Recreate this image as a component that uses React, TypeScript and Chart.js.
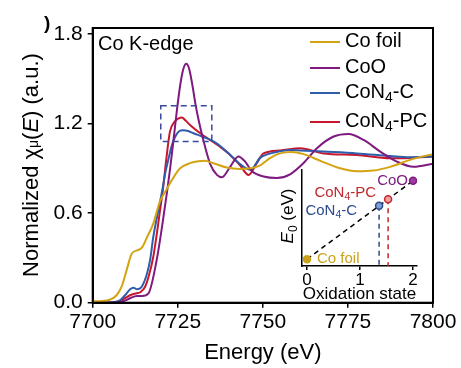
import React, { useEffect, useRef } from "react";
import { Chart, registerables } from "chart.js";
Chart.register(...registerables);

const FONT = '"Liberation Sans", Arial, sans-serif';

// ---------- main XANES data ----------
const seriesNames = ["Co foil", "CoO", "CoN_4-C", "CoN_4-PC"];
const seriesColors = ["#d3a412", "#7e1a80", "#2f5cab", "#c8162c"];

const coFoilE = [7700, 7703, 7705, 7707, 7708.5, 7710, 7711.5, 7713.4, 7714.5, 7716, 7717.8, 7719.8, 7721.5, 7723.5, 7725.7, 7728.6, 7731, 7733, 7735.5, 7739.4, 7743.3, 7746.3, 7749.2, 7752.1, 7755, 7758.5, 7762, 7766.9, 7772.7, 7777.6, 7782.5, 7787.4, 7792.4, 7796, 7800];
const coFoilMu = [0.01, 0.012, 0.02, 0.05, 0.107, 0.22, 0.33, 0.353, 0.37, 0.44, 0.53, 0.68, 0.75, 0.83, 0.9, 0.935, 0.948, 0.95, 0.934, 0.905, 0.896, 0.9, 0.92, 0.968, 1.0, 1.01, 0.995, 0.95, 0.9, 0.88, 0.885, 0.91, 0.95, 0.975, 0.995];

const coOE = [7700, 7706, 7709, 7711, 7713, 7714.5, 7716.4, 7718.8, 7720.8, 7722.7, 7723.8, 7724.8, 7725.8, 7726.7, 7727.5, 7728.3, 7729.2, 7730.2, 7731.1, 7732.5, 7734.5, 7736.5, 7738, 7740.4, 7742.8, 7744.8, 7746.8, 7750.2, 7754.1, 7758, 7761.9, 7765.9, 7770.8, 7775.2, 7779.6, 7784.5, 7789.4, 7794.3, 7800];
const coOMu = [0.0, 0.002, 0.01, 0.03, 0.045, 0.045, 0.063, 0.286, 0.576, 0.89, 1.1, 1.3, 1.47, 1.57, 1.6, 1.57, 1.47, 1.33, 1.225, 1.09, 0.93, 0.856, 0.84, 0.91, 0.98, 0.945, 0.88, 0.845, 0.835, 0.86, 0.934, 1.035, 1.113, 1.13, 1.09, 1.012, 0.945, 0.91, 0.93];

const coN4CE = [7700, 7706, 7708, 7709.5, 7711, 7712, 7713, 7714.4, 7715.9, 7716.9, 7717.8, 7719.3, 7720.5, 7721.3, 7722.2, 7723.2, 7724.2, 7725.5, 7726.6, 7728, 7729.6, 7732.5, 7735.5, 7738, 7740.4, 7743.8, 7746.3, 7749.2, 7751.5, 7754.1, 7758, 7761, 7767.8, 7777.6, 7787.4, 7793, 7800];
const coN4CMu = [0.0, 0.003, 0.015, 0.05, 0.09, 0.1, 0.09, 0.107, 0.19, 0.29, 0.44, 0.62, 0.76, 0.867, 0.956, 1.05, 1.11, 1.15, 1.155, 1.15, 1.135, 1.11, 1.08, 1.04, 0.99, 0.92, 0.89, 0.97, 0.995, 1.01, 1.023, 1.02, 1.012, 1.0, 0.983, 0.975, 0.98];

const coN4PCE = [7700, 7706, 7708, 7709.5, 7711, 7712.9, 7714, 7715.4, 7716.5, 7717.8, 7719.8, 7720.8, 7721.6, 7722.7, 7724, 7725.3, 7726.2, 7727.3, 7728.6, 7731.6, 7734.5, 7737.4, 7740.4, 7743.3, 7745.8, 7748.2, 7750.2, 7755.1, 7761, 7767.8, 7777.6, 7787.4, 7793, 7800];
const coN4PCMu = [0.0, 0.002, 0.01, 0.03, 0.05, 0.063, 0.07, 0.107, 0.18, 0.308, 0.62, 0.79, 0.956, 1.146, 1.21, 1.235, 1.24, 1.22, 1.19, 1.135, 1.09, 1.045, 0.99, 0.92, 0.856, 0.934, 1.0, 1.02, 1.035, 1.0, 0.99, 0.968, 0.97, 0.98];

const xTicks = [7700, 7725, 7750, 7775, 7800];
const yTicks = [0.0, 0.6, 1.2, 1.8];
const zoomBoxE = [7720, 7735];
const zoomBoxMu = [1.08, 1.32];

// ---------- inset data ----------
const insetNames = ["Co foil", "CoN_4-C", "CoN_4-PC", "CoO"];
const insetColors = ["#c9a21b", "#2b4a8f", "#c0282d", "#7e1a80"];
const insetFill = ["#c9a21b", "#7e9ed6", "#f3a0a0", "#a03aa0"];
const oxState = [0, 1.36, 1.53, 2];
const e0 = [7709.0, 7714.44, 7715.12, 7717.0];
const oxTicks = [0, 1, 2];
const insetYMin = 7708.3;
const insetYMax = 7718.1;

type Seg = { t: string; size: number; italic?: boolean; dy?: number; bold?: boolean };

function parseLabel(s: string, size: number): Seg[] {
  const out: Seg[] = [];
  s.split(/_(\w)/).forEach((p, i) => {
    if (!p) return;
    if (i % 2 === 1) out.push({ t: p, size: size * 0.7, dy: size * 0.22 });
    else out.push({ t: p, size });
  });
  return out;
}

function fontOf(s: Seg) {
  return `${s.italic ? "italic " : ""}${s.bold ? "bold " : ""}${s.size}px ${FONT}`;
}

function drawSegs(ctx: CanvasRenderingContext2D, segs: Seg[], x: number, y: number, align: "left" | "right" | "center", color: string) {
  ctx.save();
  ctx.fillStyle = color;
  ctx.textBaseline = "alphabetic";
  ctx.textAlign = "left";
  let w = 0;
  const ws: number[] = [];
  for (const s of segs) {
    ctx.font = fontOf(s);
    const m = ctx.measureText(s.t).width;
    ws.push(m);
    w += m;
  }
  let cx = align === "left" ? x : align === "right" ? x - w : x - w / 2;
  segs.forEach((s, i) => {
    ctx.font = fontOf(s);
    ctx.fillText(s.t, cx, y + (s.dy || 0));
    cx += ws[i];
  });
  ctx.restore();
}

function drawRotated(ctx: CanvasRenderingContext2D, segs: Seg[], bx: number, cy: number, color: string) {
  ctx.save();
  ctx.translate(bx, cy);
  ctx.rotate(-Math.PI / 2);
  drawSegs(ctx, segs, 0, 0, "center", color);
  ctx.restore();
}

const mainDecor = {
  id: "mainDecor",
  afterDatasetsDraw(chart: any) {
    const ctx: CanvasRenderingContext2D = chart.ctx;
    const { left, right, top, bottom } = chart.chartArea;
    const xs = chart.scales.x;
    const ys = chart.scales.y;
    ctx.save();
    // frame
    ctx.strokeStyle = "#000";
    ctx.lineWidth = 2;
    ctx.strokeRect(left, top, right - left, bottom - top);
    // dashed zoom box
    ctx.strokeStyle = "#3b4a9c";
    ctx.lineWidth = 1.5;
    ctx.setLineDash([6, 4]);
    const bx0 = xs.getPixelForValue(zoomBoxE[0]);
    const bx1 = xs.getPixelForValue(zoomBoxE[1]);
    const by0 = ys.getPixelForValue(zoomBoxMu[1]);
    const by1 = ys.getPixelForValue(zoomBoxMu[0]);
    ctx.strokeRect(bx0, by0, bx1 - bx0, by1 - by0);
    ctx.setLineDash([]);
    // legend
    const rows = [42, 68, 93, 122];
    seriesNames.forEach((n, i) => {
      ctx.strokeStyle = seriesColors[i];
      ctx.lineWidth = 2;
      ctx.beginPath();
      ctx.moveTo(310, rows[i]);
      ctx.lineTo(340, rows[i]);
      ctx.stroke();
      drawSegs(ctx, parseLabel(n, 20), 345, rows[i] + 5, "left", "#000");
    });
    // panel label
    drawSegs(ctx, [{ t: "Co K-edge", size: 20 }], 98, 50, "left", "#000");
    // axis titles
    drawSegs(ctx, [{ t: "Energy (eV)", size: 22 }], (left + right) / 2, 359, "center", "#000");
    drawRotated(ctx, [
      { t: "Normalized ", size: 22 },
      { t: "χ", size: 22 },
      { t: "μ", size: 14 },
      { t: "(", size: 22 },
      { t: "E", size: 22, italic: true },
      { t: ") (a.u.)", size: 22 },
    ], 38, 165, "#000");
    drawSegs(ctx, [{ t: ")", size: 19, bold: true }], 44, 29, "left", "#000");
    ctx.restore();
  },
};

const insetDecor = {
  id: "insetDecor",
  afterDatasetsDraw(chart: any) {
    const ctx: CanvasRenderingContext2D = chart.ctx;
    const xs = chart.scales.x;
    const ys = chart.scales.y;
    const { left, right } = chart.chartArea;
    const offs = [
      { dx: 10, dy: 4, a: "left" },
      { dx: -22, dy: 9, a: "right" },
      { dx: -12, dy: -2, a: "right" },
      { dx: -5, dy: 4, a: "right" },
    ];
    insetNames.forEach((n, i) => {
      const px = xs.getPixelForValue(oxState[i]);
      const py = ys.getPixelForValue(e0[i]);
      drawSegs(ctx, parseLabel(n, 15), px + offs[i].dx, py + offs[i].dy, offs[i].a as any, insetColors[i]);
    });
    drawSegs(ctx, [{ t: "Oxidation state", size: 17 }], (left + right) / 2, 299, "center", "#000");
    drawRotated(ctx, [
      { t: "E", size: 17, italic: true },
      { t: "0", size: 12, dy: 4 },
      { t: " (eV)", size: 17 },
    ], 293, 216, "#000");
  },
};

export default function App() {
  const mainRef = useRef<HTMLCanvasElement | null>(null);
  const insetRef = useRef<HTMLCanvasElement | null>(null);

  useEffect(() => {
    const series = [
      { E: coFoilE, mu: coFoilMu },
      { E: coOE, mu: coOMu },
      { E: coN4CE, mu: coN4CMu },
      { E: coN4PCE, mu: coN4PCMu },
    ];
    const main = new Chart(mainRef.current!, {
      type: "line",
      data: {
        datasets: series.map((s, i) => ({
          label: seriesNames[i],
          data: s.E.map((x, j) => ({ x, y: s.mu[j] })),
          borderColor: seriesColors[i],
          backgroundColor: seriesColors[i],
          borderWidth: 2,
          pointRadius: 0,
          cubicInterpolationMode: "monotone",
          fill: false,
        })),
      },
      options: {
        animation: false,
        responsive: false,
        devicePixelRatio: 1,
        layout: { padding: { left: 0, right: 28, top: 28, bottom: 0 } },
        scales: {
          x: {
            type: "linear",
            min: 7700,
            max: 7800,
            afterBuildTicks: (s: any) => { s.ticks = xTicks.map((v) => ({ value: v })); },
            afterFit: (s: any) => { s.height = 65.3; },
            grid: { drawOnChartArea: false, drawTicks: true, tickLength: 5, color: "#000", lineWidth: 1.5 },
            border: { display: true, color: "#000", width: 2 },
            ticks: { color: "#000", font: { family: FONT, size: 21 }, padding: 2, maxRotation: 0, autoSkip: false, callback: (v: any) => String(v) },
          },
          y: {
            type: "linear",
            min: 0,
            max: 1.84,
            afterBuildTicks: (s: any) => { s.ticks = yTicks.map((v) => ({ value: v })); },
            afterFit: (s: any) => { s.width = 92.7; },
            grid: { drawOnChartArea: false, drawTicks: true, tickLength: 5, color: "#000", lineWidth: 1.5 },
            border: { display: true, color: "#000", width: 2 },
            ticks: { color: "#000", font: { family: FONT, size: 21 }, padding: 5, autoSkip: false, callback: (v: any) => Number(v).toFixed(1) },
          },
        },
        plugins: { legend: { display: false }, tooltip: { enabled: false } },
      } as any,
      plugins: [mainDecor],
    });

    const inset = new Chart(insetRef.current!, {
      type: "scatter",
      data: {
        datasets: [
          {
            data: oxState.map((x, i) => ({ x, y: e0[i] })),
            pointRadius: 3.5,
            pointBorderWidth: 1.5,
            pointBackgroundColor: insetFill,
            pointBorderColor: insetColors,
            showLine: false,
          },
          {
            data: [{ x: oxState[0], y: e0[0] }, { x: oxState[3], y: e0[3] }],
            showLine: true,
            borderColor: "#000",
            borderWidth: 1.5,
            borderDash: [5, 4],
            pointRadius: 0,
          },
          {
            data: [{ x: oxState[1], y: e0[1] }, { x: oxState[1], y: insetYMin }],
            showLine: true,
            borderColor: insetColors[1],
            borderWidth: 1.5,
            borderDash: [5, 4],
            pointRadius: 0,
          },
          {
            data: [{ x: oxState[2], y: e0[2] }, { x: oxState[2], y: insetYMin }],
            showLine: true,
            borderColor: insetColors[2],
            borderWidth: 1.5,
            borderDash: [5, 4],
            pointRadius: 0,
          },
        ],
      },
      options: {
        animation: false,
        responsive: false,
        devicePixelRatio: 1,
        layout: { padding: { left: 302, right: 44, top: 170, bottom: 0 } },
        scales: {
          x: {
            type: "linear",
            min: -0.094,
            max: 2.075,
            afterBuildTicks: (s: any) => { s.ticks = oxTicks.map((v) => ({ value: v })); },
            afterFit: (s: any) => { s.height = 102; },
            grid: { drawOnChartArea: false, drawTicks: true, tickLength: 4, color: "#000", lineWidth: 1.5 },
            border: { display: true, color: "#000", width: 1.5 },
            ticks: { color: "#000", font: { family: FONT, size: 17 }, padding: 0, maxRotation: 0, autoSkip: false, callback: (v: any) => String(v) },
          },
          y: {
            type: "linear",
            min: insetYMin,
            max: insetYMax,
            afterFit: (s: any) => { s.width = 0; },
            grid: { display: false },
            border: { display: true, color: "#000", width: 1.5 },
            ticks: { display: false },
          },
        },
        plugins: { legend: { display: false }, tooltip: { enabled: false } },
      } as any,
      plugins: [insetDecor],
    });

    return () => {
      main.destroy();
      inset.destroy();
    };
  }, []);

  return (
    <div style={{ position: "absolute", left: 0, top: 0, width: 461, height: 368, background: "#fff" }}>
      <canvas ref={mainRef} width={461} height={368} style={{ position: "absolute", left: 0, top: 0 }} />
      <canvas ref={insetRef} width={461} height={368} style={{ position: "absolute", left: 0, top: 0 }} />
    </div>
  );
}
